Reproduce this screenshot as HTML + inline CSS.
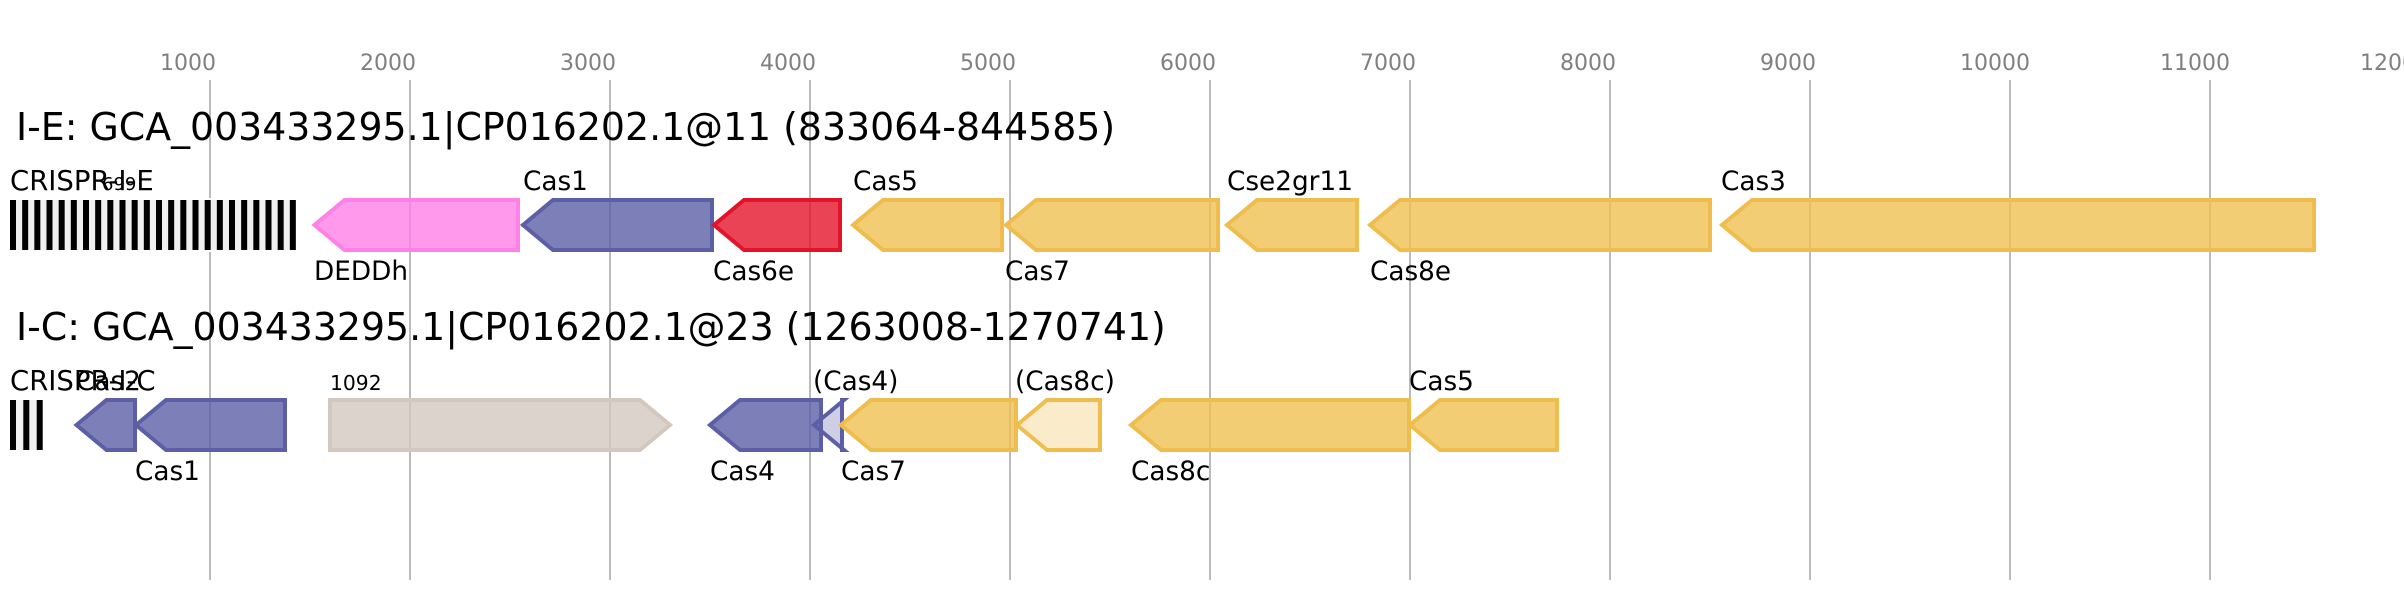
<!DOCTYPE html>
<html><head><meta charset="utf-8"><style>
html,body{margin:0;padding:0;background:#fff;width:2404px;height:600px;overflow:hidden}
svg{display:block}
text{font-family:"DejaVu Sans",sans-serif;fill:#000;font-size:26.3px}
.t{font-size:37.85px}
.c{font-size:27.5px}
.k{font-size:22px;fill:#808080}
.n{font-size:20.3px}
.s{font-size:18px}
.p{fill:#5c5fa6;stroke:#5c5fa6}
.g{fill:#efc051;stroke:#efbd4d}
.m{fill:#ff80e6;stroke:#ff80e6}
.r{fill:#e3142a;stroke:#e3142a}
.b{fill:#d3c8bf;stroke:#d3c8bf}
polygon{stroke-width:4;fill-opacity:.8}
.l{fill-opacity:.3}
</style></head><body>
<svg width="2404" height="600" viewBox="0 0 2404 600" xmlns="http://www.w3.org/2000/svg">
<g stroke="#bbb" stroke-width="2">
<line x1="210" y1="80" x2="210" y2="580"/><line x1="410" y1="80" x2="410" y2="580"/><line x1="610" y1="80" x2="610" y2="580"/><line x1="810" y1="80" x2="810" y2="580"/><line x1="1010" y1="80" x2="1010" y2="580"/><line x1="1210" y1="80" x2="1210" y2="580"/><line x1="1410" y1="80" x2="1410" y2="580"/><line x1="1610" y1="80" x2="1610" y2="580"/><line x1="1810" y1="80" x2="1810" y2="580"/><line x1="2010" y1="80" x2="2010" y2="580"/><line x1="2210" y1="80" x2="2210" y2="580"/>
</g>
<g class="ticks">
<text class="k" x="160" y="70">1000</text><text class="k" x="360" y="70">2000</text><text class="k" x="560" y="70">3000</text><text class="k" x="760" y="70">4000</text><text class="k" x="960" y="70">5000</text><text class="k" x="1160" y="70">6000</text><text class="k" x="1360" y="70">7000</text><text class="k" x="1560" y="70">8000</text><text class="k" x="1760" y="70">9000</text><text class="k" x="1960" y="70">10000</text><text class="k" x="2160" y="70">11000</text><text class="k" x="2360" y="70">12000</text>
</g>
<text class="t" x="16" y="140">I-E: GCA_003433295.1|CP016202.1@11 (833064-844585)</text>
<text class="t" x="16" y="340">I-C: GCA_003433295.1|CP016202.1@23 (1263008-1270741)</text>

<rect x="8" y="198" width="290" height="54" fill="#fff"/>
<rect x="10" y="200" width="286" height="50" fill="#f0f0f0"/>
<g fill="#000">
<rect x="10" y="200" width="6" height="50"/><rect x="22.17" y="200" width="6" height="50"/><rect x="34.33" y="200" width="6" height="50"/><rect x="46.5" y="200" width="6" height="50"/><rect x="58.67" y="200" width="6" height="50"/><rect x="70.83" y="200" width="6" height="50"/><rect x="83" y="200" width="6" height="50"/><rect x="95.17" y="200" width="6" height="50"/><rect x="107.33" y="200" width="6" height="50"/><rect x="119.5" y="200" width="6" height="50"/><rect x="131.67" y="200" width="6" height="50"/><rect x="143.83" y="200" width="6" height="50"/><rect x="156" y="200" width="6" height="50"/><rect x="168.17" y="200" width="6" height="50"/><rect x="180.33" y="200" width="6" height="50"/><rect x="192.5" y="200" width="6" height="50"/><rect x="204.67" y="200" width="6" height="50"/><rect x="216.83" y="200" width="6" height="50"/><rect x="229" y="200" width="6" height="50"/><rect x="241.17" y="200" width="6" height="50"/><rect x="253.33" y="200" width="6" height="50"/><rect x="265.5" y="200" width="6" height="50"/><rect x="277.67" y="200" width="6" height="50"/><rect x="289.83" y="200" width="6" height="50"/>
</g>
<text class="c" x="10" y="190">CRISPR-I-E</text><text class="s" x="102" y="190">699</text>

<polygon class="m" points="518,200 344.5,200 314.5,225 344.5,250 518,250"/>
<polygon class="p" points="712,200 553,200 523,225 553,250 712,250"/>
<polygon class="r" points="840,200 744,200 714,225 744,250 840,250"/>
<polygon class="g" points="1002,200 883,200 853,225 883,250 1002,250"/>
<polygon class="g" points="1218,200 1036,200 1006,225 1036,250 1218,250"/>
<polygon class="g" points="1357,200 1257,200 1227,225 1257,250 1357,250"/>
<polygon class="g" points="1710,200 1400,200 1370,225 1400,250 1710,250"/>
<polygon class="g" points="2314,200 1752,200 1722,225 1752,250 2314,250"/>

<text x="314" y="280">DEDDh</text><text x="523" y="190">Cas1</text><text x="713" y="280">Cas6e</text><text x="853" y="190">Cas5</text><text x="1005" y="280">Cas7</text><text x="1227" y="190">Cse2gr11</text><text x="1370" y="280">Cas8e</text><text x="1721" y="190">Cas3</text>

<rect x="10" y="400" width="33" height="50" fill="#f0f0f0"/>
<g fill="#000"><rect x="10" y="400" width="6" height="50"/><rect x="23.3" y="400" width="6" height="50"/><rect x="36.7" y="400" width="6" height="50"/></g>
<text class="c" x="10" y="390">CRISPR-I-C</text>

<polygon class="p" points="135,400 106.5,400 76.5,425 106.5,450 135,450"/>
<polygon class="p" points="285,400 166,400 136,425 166,450 285,450"/>
<polygon class="b" points="330,400 640,400 670,425 640,450 330,450"/>
<polygon class="p" points="821,400 740,400 710,425 740,450 821,450"/>
<polygon class="p l" points="842,400 844,400 814,425 844,450 842,450"/>
<polygon class="g" points="1016,400 871,400 841,425 871,450 1016,450"/>
<polygon class="g l" points="1100,400 1047,400 1017,425 1047,450 1100,450"/>
<polygon class="g" points="1409,400 1161,400 1131,425 1161,450 1409,450"/>
<polygon class="g" points="1557,400 1440,400 1410,425 1440,450 1557,450"/>

<text x="76" y="390">Cas2</text><text x="135" y="480">Cas1</text><text class="n" x="330" y="390">1092</text><text x="710" y="480">Cas4</text><text x="813" y="390">(Cas4)</text><text x="841" y="480">Cas7</text><text x="1015" y="390">(Cas8c)</text><text x="1131" y="480">Cas8c</text><text x="1409" y="390">Cas5</text>
</svg>
</body></html>
